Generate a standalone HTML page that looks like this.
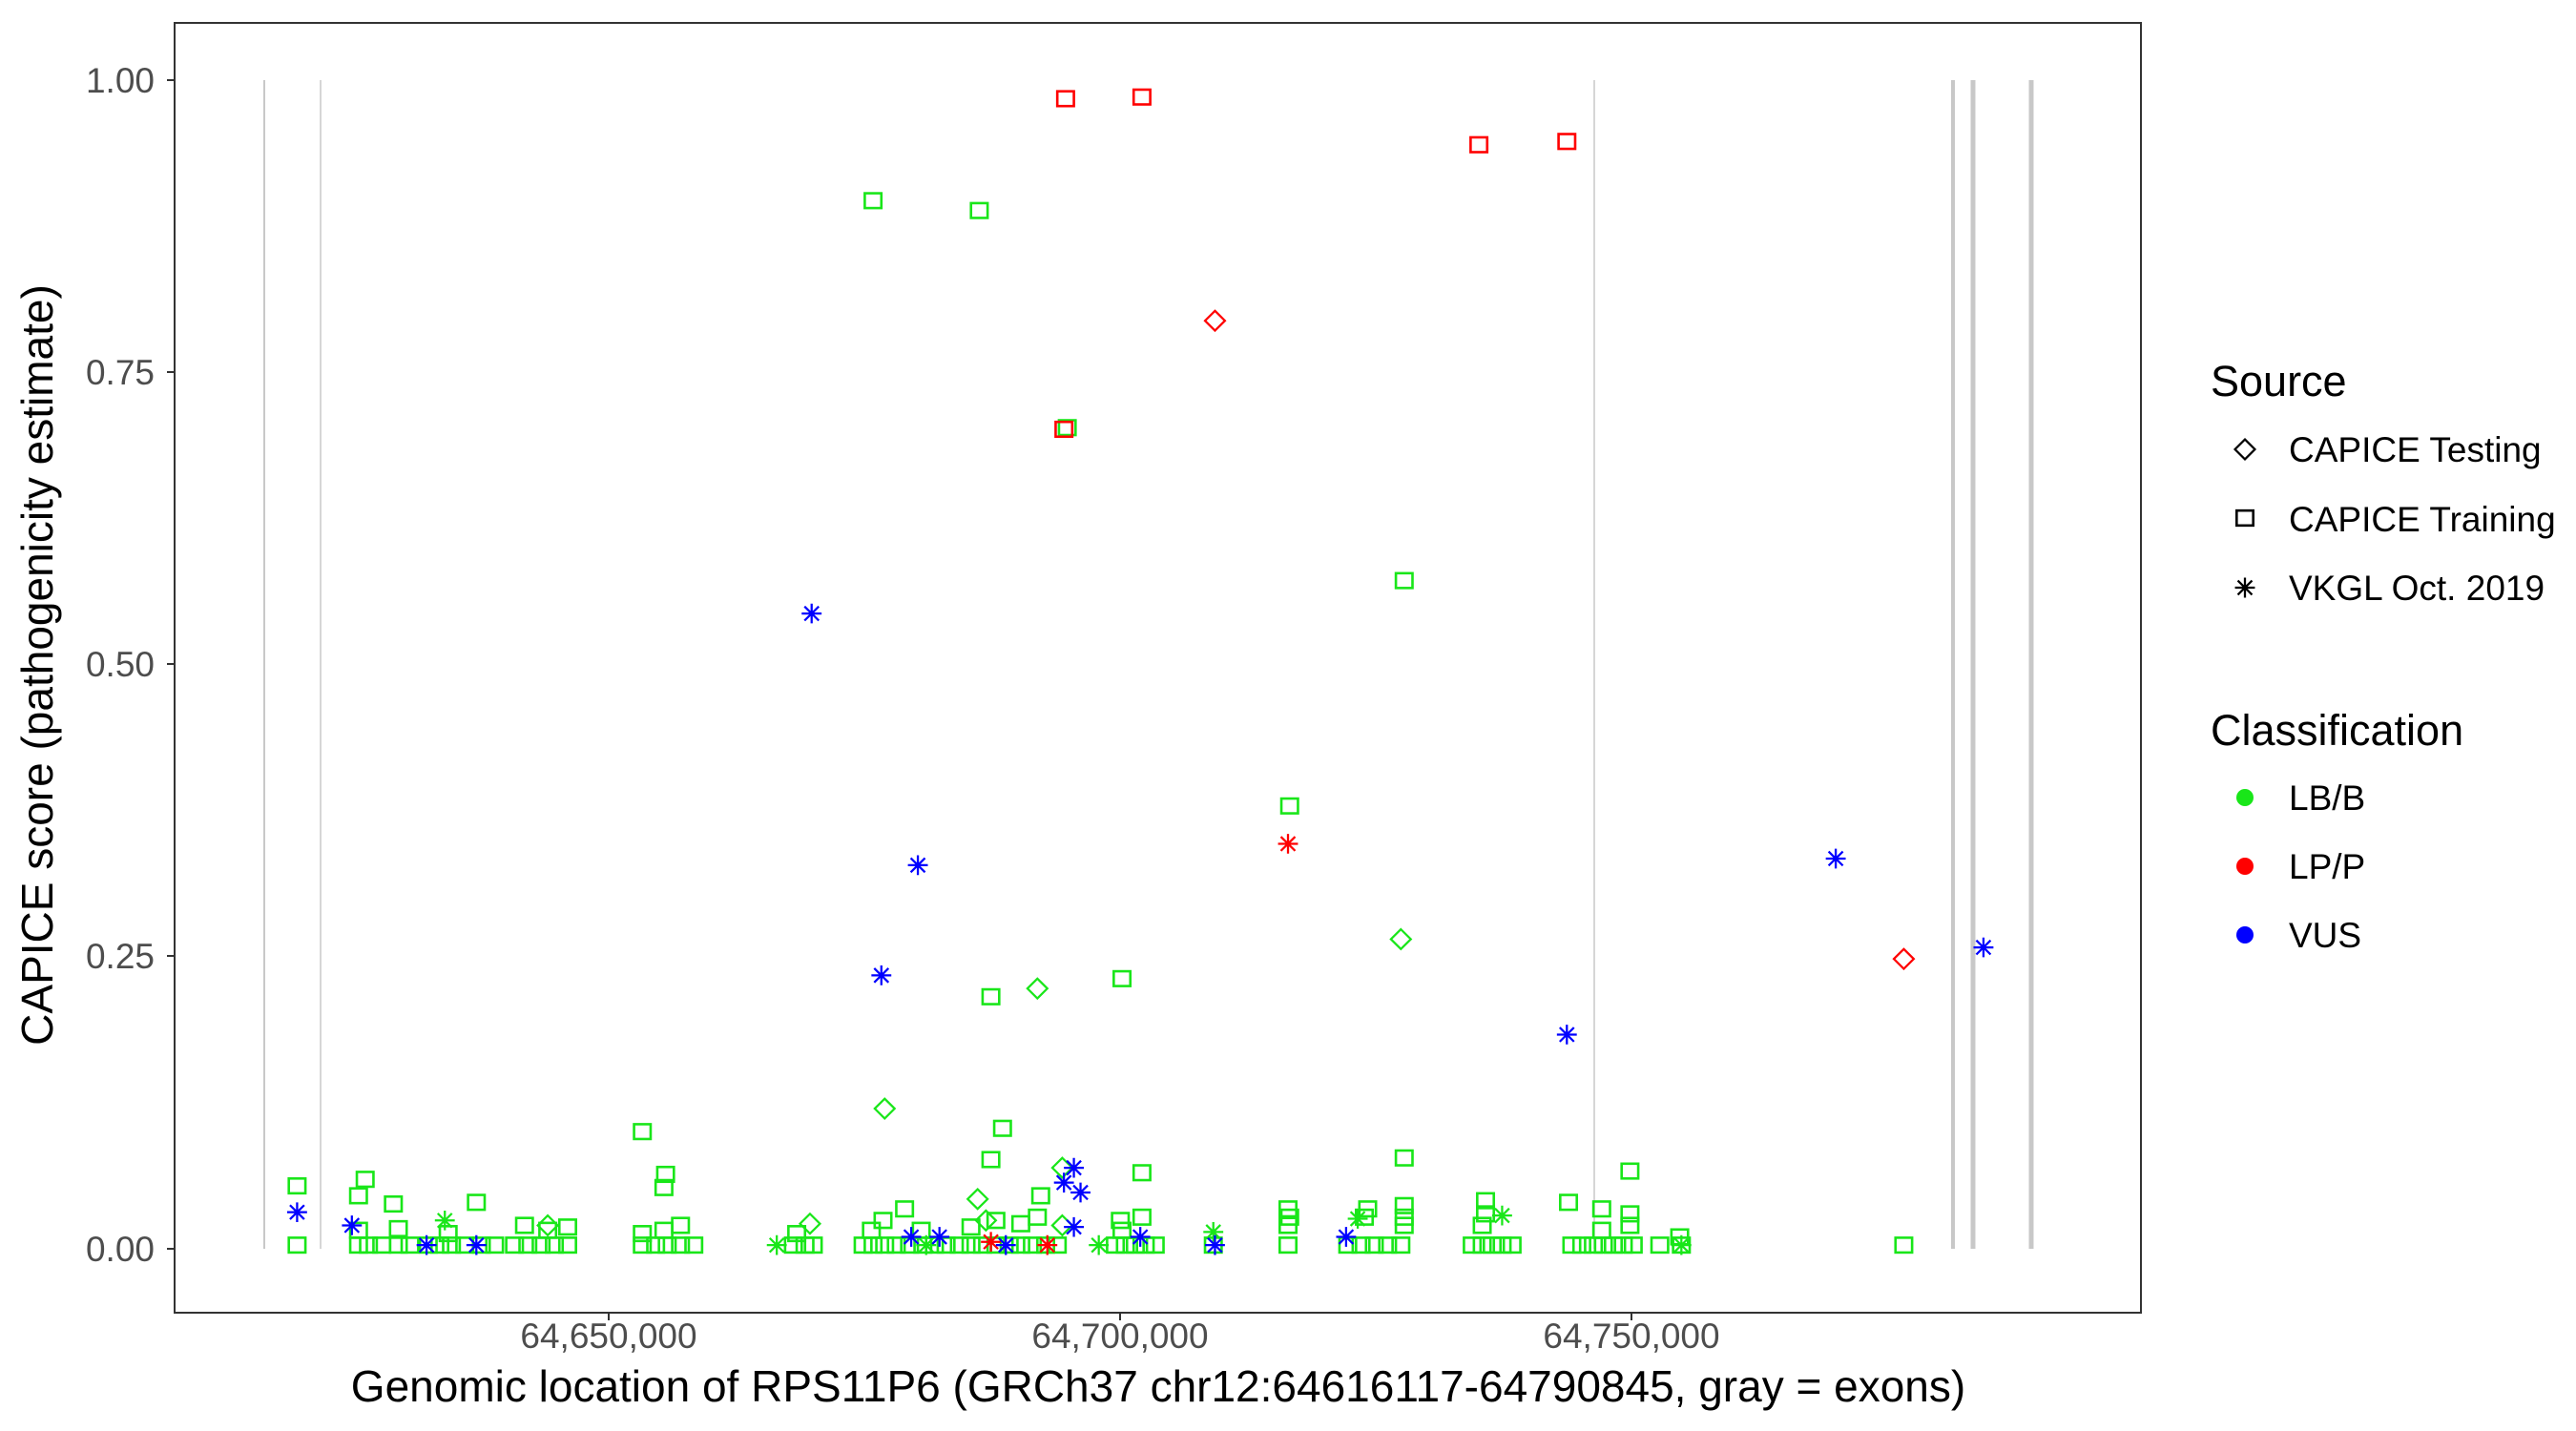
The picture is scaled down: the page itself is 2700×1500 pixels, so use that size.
<!DOCTYPE html>
<html><head><meta charset="utf-8"><style>
html,body{margin:0;padding:0;background:#fff;}
svg{display:block;font-family:"Liberation Sans",sans-serif;}
</style></head><body>
<svg width="2700" height="1500" viewBox="0 0 2700 1500" xmlns="http://www.w3.org/2000/svg">
<defs>
<g id="sq"><rect x="-5" y="-4.5" width="10" height="9" fill="none" stroke-width="1.5"/></g>
<g id="dm"><path d="M0,-6 L6,0 L0,6 L-6,0 Z" fill="none" stroke-width="1.3"/></g>
<g id="as"><path d="M-6,0 H6 M0,-6 V6 M-4.3,-4.3 L4.3,4.3 M-4.3,4.3 L4.3,-4.3" fill="none" stroke-width="1.3"/></g>
</defs>
<rect width="2700" height="1500" fill="#fff"/>
<g stroke="#c8c8c8">
<line x1="277" y1="84" x2="277" y2="1309" stroke-width="2"/>
<line x1="336" y1="84" x2="336" y2="1309" stroke-width="1.5"/>
<line x1="1671" y1="84" x2="1671" y2="1309" stroke-width="1.5"/>
<line x1="2047" y1="84" x2="2047" y2="1309" stroke-width="4"/>
<line x1="2068" y1="84" x2="2068" y2="1309" stroke-width="5"/>
<line x1="2129" y1="84" x2="2129" y2="1309" stroke-width="5"/>
</g>
<rect x="183" y="24" width="2061" height="1352" fill="none" stroke="#333" stroke-width="2"/>
<g stroke="#333" stroke-width="2">
<line x1="175" y1="84" x2="183" y2="84"/><line x1="175" y1="390" x2="183" y2="390"/>
<line x1="175" y1="696" x2="183" y2="696"/><line x1="175" y1="1002" x2="183" y2="1002"/>
<line x1="175" y1="1309" x2="183" y2="1309"/>
<line x1="638" y1="1376" x2="638" y2="1384"/><line x1="1174" y1="1376" x2="1174" y2="1384"/><line x1="1710" y1="1376" x2="1710" y2="1384"/>
</g>
<g fill="#4d4d4d" font-size="37" text-anchor="end">
<text x="162" y="97">1.00</text><text x="162" y="403">0.75</text><text x="162" y="709">0.50</text><text x="162" y="1015">0.25</text><text x="162" y="1322">0.00</text>
</g>
<g fill="#4d4d4d" font-size="37" text-anchor="middle">
<text x="638" y="1413">64,650,000</text><text x="1174" y="1413">64,700,000</text><text x="1710" y="1413">64,750,000</text>
</g>
<text x="1214" y="1469" font-size="46" text-anchor="middle" fill="#000">Genomic location of RPS11P6 (GRCh37 chr12:64616117-64790845, gray = exons)</text>
<text transform="translate(55,697) rotate(-90)" font-size="46" text-anchor="middle" fill="#000">CAPICE score (pathogenicity estimate)</text>
<text x="2317" y="415" font-size="45">Source</text>
<g stroke="#000" transform="translate(2353,471) scale(1.74)"><use href="#dm"/></g>
<g stroke="#000" transform="translate(2353,543) scale(1.74)"><use href="#sq"/></g>
<g stroke="#000" transform="translate(2353,616) scale(1.74)"><use href="#as"/></g>
<g font-size="37"><text x="2399" y="484">CAPICE Testing</text><text x="2399" y="557">CAPICE Training</text><text x="2399" y="629">VKGL Oct. 2019</text></g>
<text x="2317" y="781" font-size="45">Classification</text>
<circle cx="2353" cy="836" r="9" fill="#19e619"/><circle cx="2353" cy="908" r="9" fill="#f00"/><circle cx="2353" cy="980" r="9" fill="#00f"/>
<g font-size="37"><text x="2399" y="849">LB/B</text><text x="2399" y="921">LP/P</text><text x="2399" y="993">VUS</text></g>
<g transform="scale(1.7397,1.7241)">
<g stroke="#19e619">
<use href="#sq" x="526" y="122"/><use href="#sq" x="590" y="128"/><use href="#sq" x="643" y="260"/><use href="#sq" x="846" y="353"/><use href="#sq" x="777" y="490"/><use href="#sq" x="597" y="606"/><use href="#sq" x="676" y="595"/><use href="#sq" x="387" y="688"/><use href="#sq" x="401" y="714"/><use href="#sq" x="400" y="722"/><use href="#sq" x="604" y="686"/><use href="#sq" x="597" y="705"/><use href="#sq" x="846" y="704"/><use href="#sq" x="688" y="713"/><use href="#sq" x="982" y="712"/><use href="#sq" x="179" y="721"/><use href="#sq" x="220" y="717"/><use href="#sq" x="216" y="727"/><use href="#sq" x="237" y="732"/><use href="#sq" x="287" y="731"/>
<use href="#sq" x="179" y="757"/><use href="#sq" x="216" y="757"/><use href="#sq" x="222" y="757"/><use href="#sq" x="230" y="757"/><use href="#sq" x="240" y="757"/><use href="#sq" x="247" y="757"/><use href="#sq" x="258" y="757"/><use href="#sq" x="265" y="757"/><use href="#sq" x="272" y="757"/><use href="#sq" x="280" y="757"/><use href="#sq" x="290" y="757"/><use href="#sq" x="298" y="757"/><use href="#sq" x="310" y="757"/><use href="#sq" x="318" y="757"/><use href="#sq" x="326" y="757"/><use href="#sq" x="334" y="757"/><use href="#sq" x="342" y="757"/><use href="#sq" x="387" y="757"/><use href="#sq" x="395" y="757"/><use href="#sq" x="402" y="757"/><use href="#sq" x="410" y="757"/><use href="#sq" x="418" y="757"/><use href="#sq" x="478" y="757"/><use href="#sq" x="485" y="757"/><use href="#sq" x="490" y="757"/><use href="#sq" x="520" y="757"/><use href="#sq" x="526" y="757"/><use href="#sq" x="533" y="757"/><use href="#sq" x="540" y="757"/><use href="#sq" x="548" y="757"/><use href="#sq" x="556" y="757"/><use href="#sq" x="563" y="757"/><use href="#sq" x="570" y="757"/><use href="#sq" x="578" y="757"/><use href="#sq" x="585" y="757"/><use href="#sq" x="592" y="757"/><use href="#sq" x="600" y="757"/><use href="#sq" x="608" y="757"/><use href="#sq" x="615" y="757"/><use href="#sq" x="622" y="757"/><use href="#sq" x="630" y="757"/><use href="#sq" x="637" y="757"/><use href="#sq" x="672" y="757"/><use href="#sq" x="678" y="757"/><use href="#sq" x="684" y="757"/><use href="#sq" x="690" y="757"/><use href="#sq" x="696" y="757"/><use href="#sq" x="731" y="757"/><use href="#sq" x="776" y="757"/><use href="#sq" x="812" y="757"/><use href="#sq" x="820" y="757"/><use href="#sq" x="828" y="757"/><use href="#sq" x="836" y="757"/><use href="#sq" x="844" y="757"/><use href="#sq" x="887" y="757"/><use href="#sq" x="893" y="757"/><use href="#sq" x="899" y="757"/><use href="#sq" x="905" y="757"/><use href="#sq" x="911" y="757"/><use href="#sq" x="947" y="757"/><use href="#sq" x="953" y="757"/><use href="#sq" x="960" y="757"/><use href="#sq" x="966" y="757"/><use href="#sq" x="972" y="757"/><use href="#sq" x="978" y="757"/><use href="#sq" x="984" y="757"/><use href="#sq" x="1000" y="757"/><use href="#sq" x="1013" y="757"/><use href="#sq" x="1147" y="757"/>
<use href="#sq" x="216" y="748"/><use href="#sq" x="240" y="747"/><use href="#sq" x="270" y="750"/><use href="#sq" x="316" y="745"/><use href="#sq" x="330" y="748"/><use href="#sq" x="342" y="746"/><use href="#sq" x="387" y="750"/><use href="#sq" x="400" y="748"/><use href="#sq" x="410" y="745"/><use href="#sq" x="480" y="750"/><use href="#sq" x="525" y="748"/><use href="#sq" x="532" y="742"/><use href="#sq" x="545" y="735"/><use href="#sq" x="555" y="748"/><use href="#sq" x="585" y="746"/><use href="#sq" x="600" y="742"/><use href="#sq" x="615" y="744"/><use href="#sq" x="625" y="740"/><use href="#sq" x="627" y="727"/><use href="#sq" x="675" y="742"/><use href="#sq" x="676" y="748"/><use href="#sq" x="688" y="740"/><use href="#sq" x="776" y="745"/><use href="#sq" x="776" y="735"/><use href="#sq" x="777" y="740"/><use href="#sq" x="822" y="740"/><use href="#sq" x="824" y="735"/><use href="#sq" x="846" y="745"/><use href="#sq" x="846" y="733"/><use href="#sq" x="846" y="740"/><use href="#sq" x="893" y="745"/><use href="#sq" x="895" y="730"/><use href="#sq" x="895" y="738"/><use href="#sq" x="965" y="735"/><use href="#sq" x="945" y="731"/><use href="#sq" x="982" y="738"/><use href="#sq" x="982" y="745"/><use href="#sq" x="965" y="748"/><use href="#sq" x="1012" y="752"/>
<use href="#dm" x="533" y="674"/><use href="#dm" x="625" y="601"/><use href="#dm" x="844" y="571"/><use href="#dm" x="589" y="729"/><use href="#dm" x="640" y="710"/><use href="#dm" x="488" y="744"/><use href="#dm" x="330" y="745"/><use href="#dm" x="594" y="742"/><use href="#dm" x="640" y="745"/>
<use href="#as" x="268" y="742"/><use href="#as" x="731" y="749"/><use href="#as" x="468" y="757"/><use href="#as" x="662" y="757"/><use href="#as" x="905" y="739"/><use href="#as" x="818" y="741"/><use href="#as" x="1013" y="757"/><use href="#as" x="558" y="757"/>
</g>
<g stroke="#f00">
<use href="#sq" x="642" y="60"/><use href="#sq" x="688" y="59"/><use href="#sq" x="891" y="88"/><use href="#sq" x="944" y="86"/><use href="#sq" x="641" y="261"/>
<use href="#dm" x="732" y="195"/><use href="#dm" x="1147" y="583"/>
<use href="#as" x="776" y="513"/><use href="#as" x="631" y="757"/><use href="#as" x="597" y="755"/>
</g>
<g stroke="#00f">
<use href="#as" x="489" y="373"/><use href="#as" x="553" y="526"/><use href="#as" x="531" y="593"/><use href="#as" x="1106" y="522"/><use href="#as" x="944" y="629"/><use href="#as" x="1195" y="576"/><use href="#as" x="179" y="737"/><use href="#as" x="212" y="745"/><use href="#as" x="257" y="757"/><use href="#as" x="287" y="757"/><use href="#as" x="647" y="710"/><use href="#as" x="641" y="719"/><use href="#as" x="651" y="725"/><use href="#as" x="647" y="746"/><use href="#as" x="549" y="752"/><use href="#as" x="566" y="752"/><use href="#as" x="606" y="757"/><use href="#as" x="687" y="752"/><use href="#as" x="732" y="757"/><use href="#as" x="811" y="752"/>
</g>
</g>
</svg>
</body></html>
